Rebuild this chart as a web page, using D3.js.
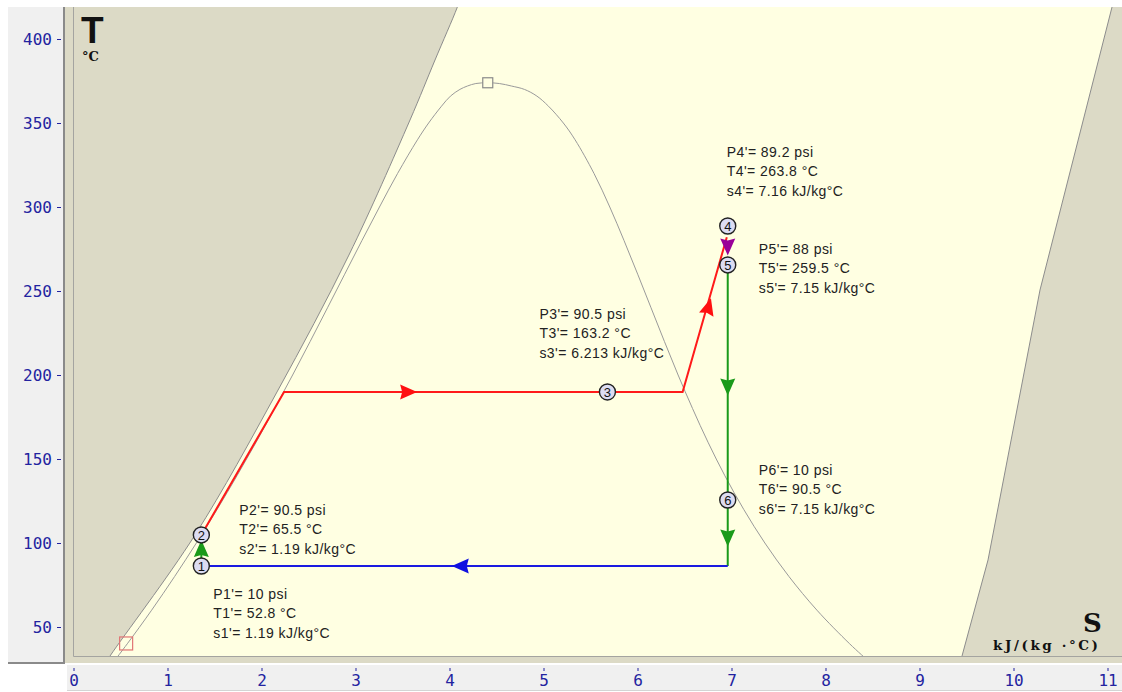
<!DOCTYPE html>
<html>
<head>
<meta charset="utf-8">
<script src="https://cdn.jsdelivr.net/npm/d3@7"></script>
<style>
  body { margin: 0; background: #fff; }
  svg { display: block; }
</style>
</head>
<body>
<div id="chart"></div>
<script>
// Axis ticks
const sTicks = [0, 1, 2, 3, 4, 5, 6, 7, 8, 9, 10, 11];
const tTicks = [50, 100, 150, 200, 250, 300, 350, 400];

// Saturation dome (water): temperature, sat. liquid entropy, sat. vapour entropy
const domeT  = [30, 40, 60, 80, 100, 120, 140, 160, 180, 200, 220, 240, 260, 280, 300, 320, 340, 350, 360, 366, 370, 372, 373.5, 373.95];
const domeSf = [0.437, 0.572, 0.831, 1.075, 1.307, 1.528, 1.739, 1.943, 2.139, 2.331, 2.518, 2.702, 2.885, 3.068, 3.255, 3.448, 3.659, 3.778, 3.915, 4.01, 4.111, 4.19, 4.28, 4.407];
const domeSg = [8.452, 8.257, 7.909, 7.612, 7.355, 7.130, 6.930, 6.750, 6.586, 6.432, 6.286, 6.144, 6.002, 5.857, 5.705, 5.537, 5.336, 5.211, 5.053, 4.93, 4.797, 4.66, 4.53, 4.407];

// Boundaries of the shaded (out of range) regions
const leftEdgeS  = [0.30, 0.388, 1.293, 2.165, 2.93, 3.580, 3.846, 4.080, 4.12];
const leftEdgeT  = [25, 32.7, 104.8, 189.9, 271.4, 351.8, 387.5, 418.5, 425];
const rightEdgeS = [9.42, 9.452, 9.729, 10.282, 11.048, 11.08];
const rightEdgeT = [25, 32.7, 89.9, 250.6, 419, 425];

// Cycle states
const stateId = [1, 2, 3, 4, 5, 6];
const stateS  = [1.36, 1.36, 5.68, 6.96, 6.96, 6.96];
const stateT  = [86.3, 104.8, 189.9, 288.7, 265.5, 125.6];
const stateP  = ["10", "90.5", "90.5", "89.2", "88", "10"];
const stateTl = ["52.8", "65.5", "163.2", "263.8", "259.5", "90.5"];
const stateSl = ["1.19", "1.19", "6.213", "7.16", "7.15", "7.15"];

// Process lines
const pumpS = [1.36, 1.36],               pumpT = [86.3, 104.8];
const heatS = [1.36, 2.24, 6.48, 6.95],   heatT = [104.8, 189.9, 189.9, 282];
const turbS = [6.96, 6.96],               turbT = [265.5, 86.3];
const condS = [6.96, 1.36],               condT = [86.3, 86.3];

// Direction arrows (position and direction in data units)
const arrowS  = [1.36, 3.56, 6.755, 6.96, 6.96, 6.96, 4.12];
const arrowT  = [96.4, 189.9, 240.5, 276.5, 193.2, 103.3, 86.3];
const arrowDS = [0, 1, 0.47, 0, 0, 0, -1];
const arrowDT = [1, 0, 92, -1, -1, -1, 0];
const arrowC  = ["#1a9a1a", "#ff1010", "#ff1010", "#990099", "#1a9a1a", "#1a9a1a", "#1010e0"];

// Reference markers
const markS = [0.56, 4.407];
const markT = [40.2, 373.95];

const W = 1122, H = 692;
const tan = "#dcdac6", paper = "#ffffe2";
const tickColor = "#2323a0";

const x = d3.scaleLinear().domain([0, 11]).range([73.5, 1107.5]);
const y = d3.scaleLinear().domain([50, 400]).range([627, 39]);

const svg = d3.select("#chart").append("svg")
    .attr("width", W)
    .attr("height", H);

// Left panel and axis strip
svg.append("rect").attr("x", 8).attr("y", 7).attr("width", 56).attr("height", 656).attr("fill", "#f0f0f0");
svg.append("rect").attr("x", 67).attr("y", 665).attr("width", W - 67).attr("height", 25).attr("fill", "#f0f0f0");
svg.append("line").attr("x1", 67).attr("x2", W).attr("y1", 690.5).attr("y2", 690.5).attr("stroke", "#d4d4d4");
svg.append("path").attr("d", "M8,663 H64 V7").attr("fill", "none").attr("stroke", "#8a8a8a").attr("stroke-width", 2);

// Plot frame
svg.append("rect").attr("x", 65).attr("y", 7).attr("width", W - 65).attr("height", 656).attr("fill", tan);

const plotL = 73, plotT = 7, plotR = W, plotB = 656;
svg.append("clipPath").attr("id", "clip")
  .append("rect").attr("x", plotL).attr("y", plotT).attr("width", plotR - plotL).attr("height", plotB - plotT);

const g = svg.append("g").attr("clip-path", "url(#clip)");
g.append("rect").attr("x", plotL).attr("y", plotT).attr("width", plotR - plotL).attr("height", plotB - plotT).attr("fill", paper);

const curve = d3.line().x(d => x(d[0])).y(d => y(d[1])).curve(d3.curveCatmullRom.alpha(0.5));
const straight = d3.line().x(d => x(d[0])).y(d => y(d[1]));

// Shaded regions
const leftPts = leftEdgeS.map((s, i) => [s, leftEdgeT[i]]);
const rightPts = rightEdgeS.map((s, i) => [s, rightEdgeT[i]]);
const leftShape = curve(leftPts) + `L${plotL - 5},${plotT - 5}L${plotL - 5},${plotB + 5}Z`;
const rightShape = straight(rightPts) + `L${plotR + 5},${plotT - 5}L${plotR + 5},${plotB + 5}Z`;
g.append("path").attr("d", leftShape).attr("fill", tan);
g.append("path").attr("d", rightShape).attr("fill", tan);
g.append("path").attr("d", curve(leftPts)).attr("fill", "none").attr("stroke", "#8c8c8c").attr("stroke-width", 1);
g.append("path").attr("d", straight(rightPts)).attr("fill", "none").attr("stroke", "#8c8c8c").attr("stroke-width", 1);

// Saturation dome
const domePts = domeT.map((t, i) => [domeSf[i], t])
    .concat(domeT.slice(0, -1).map((t, i) => [domeSg[i], t]).reverse());
g.append("path").attr("d", curve(domePts)).attr("fill", "none").attr("stroke", "#9a9a9a").attr("stroke-width", 1);

// Inner frame lines
svg.append("path").attr("d", `M${plotL + 0.5},${plotT} V${plotB + 0.5} H${plotR}`)
    .attr("fill", "none").attr("stroke", "#a4a4a0").attr("stroke-width", 1);

// Markers
g.append("rect").attr("x", x(markS[0]) - 6.5).attr("y", y(markT[0]) - 6.5).attr("width", 13).attr("height", 13)
    .attr("fill", "none").attr("stroke", "#e07474").attr("stroke-width", 1.2);
g.append("rect").attr("x", x(markS[1]) - 5).attr("y", y(markT[1]) - 5).attr("width", 10).attr("height", 10)
    .attr("fill", paper).attr("stroke", "#8a8a8a").attr("stroke-width", 1.2);

// Process lines
const zip = (a, b) => a.map((v, i) => [v, b[i]]);
g.append("path").attr("d", straight(zip(heatS, heatT))).attr("fill", "none").attr("stroke", "#ff1a1a").attr("stroke-width", 2);
g.append("path").attr("d", straight(zip(turbS, turbT))).attr("fill", "none").attr("stroke", "#1a9a1a").attr("stroke-width", 2);
g.append("path").attr("d", straight(zip(pumpS, pumpT))).attr("fill", "none").attr("stroke", "#1a9a1a").attr("stroke-width", 2);
g.append("path").attr("d", straight(zip(condS, condT))).attr("fill", "none").attr("stroke", "#1a1ae0").attr("stroke-width", 2);

// Arrows
arrowS.forEach((s, i) => {
    const ang = Math.atan2(y(arrowT[i] + arrowDT[i]) - y(arrowT[i]), x(s + arrowDS[i]) - x(s)) * 180 / Math.PI;
    g.append("path")
        .attr("d", "M9,0 L-8,-7.5 L-6,0 L-8,7.5 Z")
        .attr("transform", `translate(${x(s)},${y(arrowT[i])}) rotate(${ang})`)
        .attr("fill", arrowC[i]);
});

// State circles
const states = g.append("g").selectAll("g")
    .data(stateId)
    .enter()
    .append("g")
    .attr("transform", (d, i) => `translate(${x(stateS[i])},${y(stateT[i])})`);
states.append("circle").attr("r", 8).attr("fill", "#dcdcf2").attr("stroke", "#222").attr("stroke-width", 1.4);
states.append("text")
    .attr("text-anchor", "middle")
    .attr("dy", "0.36em")
    .attr("font-family", "Liberation Sans, Arial, sans-serif")
    .attr("font-size", 13)
    .attr("fill", "#111")
    .text(d => d);

// State annotations (offset of first line from the state point, px)
const labelDx = [12, 38, -68, -1, 31, 31];
const labelDy = [28, -25, -78, -74, -16, -30];
stateId.forEach((id, i) => {
    const lx = x(stateS[i]) + labelDx[i];
    const ly = y(stateT[i]) + labelDy[i];
    const lines = [`P${id}'= ${stateP[i]} psi`, `T${id}'= ${stateTl[i]} °C`, `s${id}'= ${stateSl[i]} kJ/kg°C`];
    lines.forEach((t, k) => {
        svg.append("text")
            .attr("x", lx)
            .attr("y", ly + k * 19.3)
            .attr("dy", "0.36em")
            .attr("font-family", "Liberation Sans, Arial, sans-serif")
            .attr("font-size", 14)
            .attr("letter-spacing", 0.45)
            .attr("fill", "#222")
            .text(t);
    });
});

// Axis titles
svg.append("text").attr("x", 81).attr("y", 43)
    .attr("font-family", "Liberation Sans, Arial, sans-serif").attr("font-weight", "bold").attr("font-size", 37)
    .attr("fill", "#111").text("T");
svg.append("text").attr("x", 82).attr("y", 61)
    .attr("font-family", "DejaVu Serif, serif").attr("font-weight", "bold").attr("font-size", 13)
    .attr("fill", "#111").text("°C");
svg.append("text").attr("x", 1083).attr("y", 632)
    .attr("font-family", "DejaVu Serif, serif").attr("font-weight", "bold").attr("font-size", 26)
    .attr("fill", "#111").text("S");
svg.append("text").attr("x", 993).attr("y", 650)
    .attr("font-family", "DejaVu Serif, serif").attr("font-weight", "bold").attr("font-size", 13.5)
    .attr("textLength", 105).attr("lengthAdjust", "spacing")
    .attr("fill", "#111").text("kJ/(kg ·°C)");

// Axes
const xAxis = svg.append("g")
    .attr("transform", "translate(0,668)")
    .call(d3.axisBottom(x).tickValues(sTicks).tickSizeInner(3).tickSizeOuter(0).tickPadding(4));
const yAxis = svg.append("g")
    .attr("transform", "translate(61,0)")
    .call(d3.axisLeft(y).tickValues(tTicks).tickSizeInner(4).tickSizeOuter(0).tickPadding(5));
[xAxis, yAxis].forEach(a => {
    a.select(".domain").remove();
    a.selectAll("line").attr("stroke", tickColor);
    a.selectAll("text")
        .attr("fill", tickColor)
        .attr("font-family", "DejaVu Sans Mono, monospace")
        .attr("font-size", 16);
});
</script>
</body>
</html>
